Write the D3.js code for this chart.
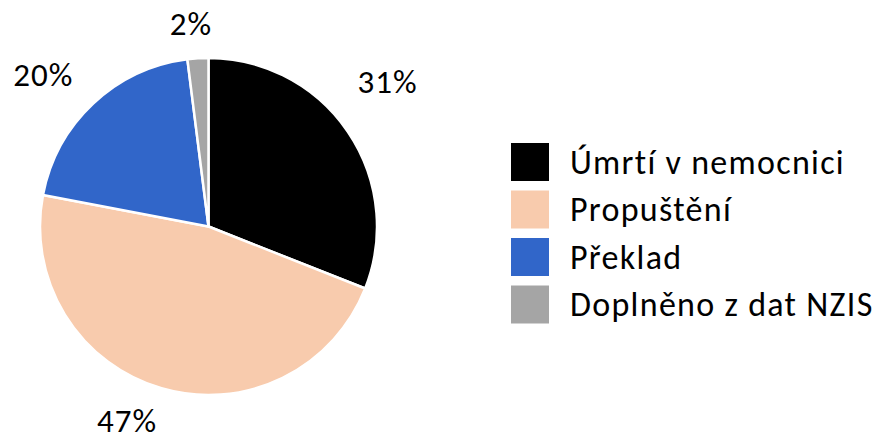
<!DOCTYPE html>
<html>
<head>
<meta charset="utf-8">
<script src="https://cdn.jsdelivr.net/npm/d3@7"></script>
<style>
  html, body { margin: 0; padding: 0; background: #fff; }
  svg { display: block; }
  text { font-family: Carlito, Lato, "Open Sans", sans-serif; fill: #000; }
</style>
</head>
<body>
<svg id="chart" width="879" height="437"></svg>
<script>
// Outcome categories and their shares (%)
const categories = ["Úmrtí v nemocnici", "Propuštění", "Překlad", "Doplněno z dat NZIS"];
const shares = [31, 47, 20, 2];
const colors = ["#000000", "#F8CBAD", "#3166C9", "#A5A5A5"];
const valueLabels = ["31%", "47%", "20%", "2%"];

const width = 879, height = 437;
const cx = 208.5, cy = 226.5, radius = 168.5;
const fontSize = 34;

const svg = d3.select("#chart");

const pie = d3.pie().sort(null).value(d => d.value);
const arcs = pie(categories.map((c, i) => ({ name: c, value: shares[i], color: colors[i], label: valueLabels[i] })));

const arc = d3.arc().innerRadius(0).outerRadius(radius);
const labelArc = d3.arc().innerRadius(radius + 48).outerRadius(radius + 48);

const g = svg.append("g").attr("transform", `translate(${cx},${cy})`);

g.selectAll("path.slice")
  .data(arcs)
  .join("path")
  .attr("class", "slice")
  .attr("d", arc)
  .attr("fill", d => d.data.color)
  .attr("stroke", "#fff")
  .attr("stroke-width", 2.5)
  .attr("stroke-linejoin", "round");

// Small nudges to keep the value labels clear of the slice edges
const labelNudge = [[0, -23], [-21, -13], [-17, 6], [-4, 14]];

g.selectAll("text.value")
  .data(arcs)
  .join("text")
  .attr("class", "value")
  .attr("x", (d, i) => labelArc.centroid(d)[0] + labelNudge[i][0])
  .attr("y", (d, i) => labelArc.centroid(d)[1] + labelNudge[i][1])
  .attr("text-anchor", "middle")
  .attr("dominant-baseline", "central")
  .style("font-size", "33px")
  .style("letter-spacing", "1px")
  .text(d => d.data.label);

// Legend
const legendX = 511, legendY = 143, swatch = 38, rowGap = 47.5;
const legend = svg.append("g").attr("transform", `translate(${legendX},${legendY})`);
const rows = legend.selectAll("g.row")
  .data(arcs)
  .join("g")
  .attr("class", "row")
  .attr("transform", (d, i) => `translate(0,${i * rowGap})`);

rows.append("rect")
  .attr("width", swatch)
  .attr("height", swatch)
  .attr("fill", d => d.data.color);

rows.append("text")
  .attr("x", 59)
  .attr("y", swatch / 2)
  .attr("dominant-baseline", "central")
  .style("font-size", fontSize + "px")
  .style("letter-spacing", "1.3px")
  .text(d => d.data.name);
</script>
</body>
</html>
